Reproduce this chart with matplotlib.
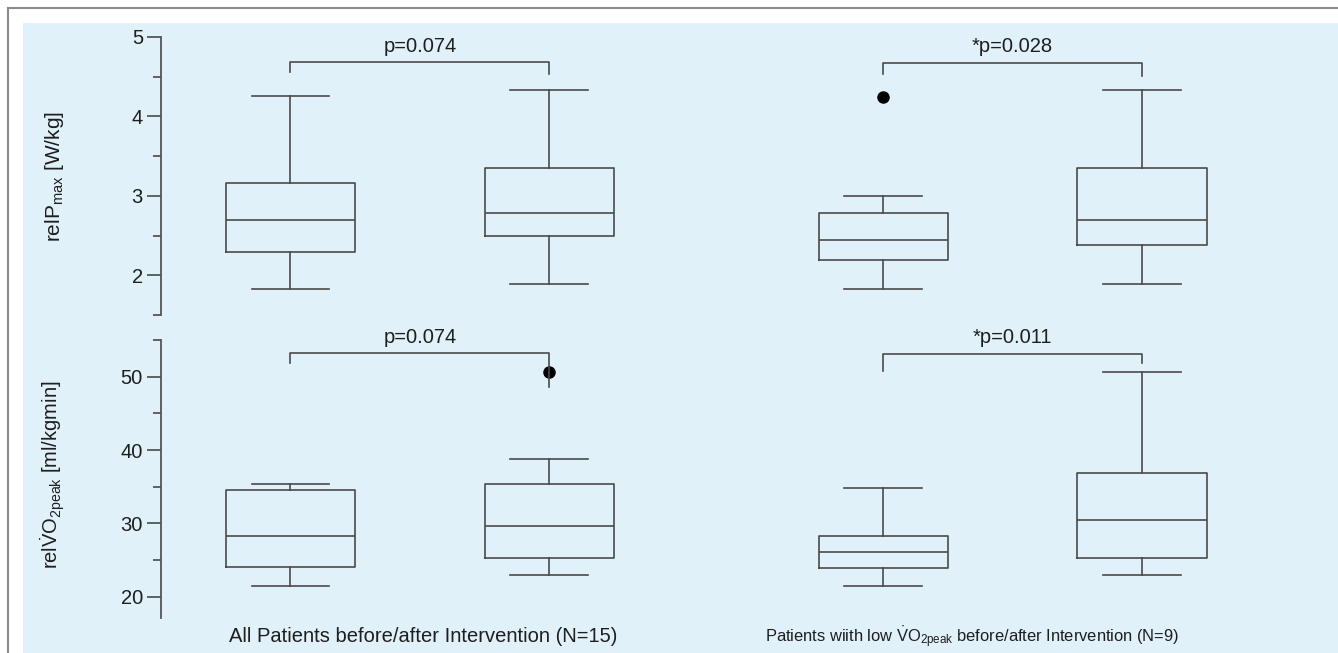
import matplotlib
matplotlib.use('Agg')
import matplotlib.pyplot as plt
from matplotlib.patches import Rectangle
from matplotlib.lines import Line2D

plt.rcParams['font.family'] = ['Liberation Sans', 'DejaVu Sans']
plt.rcParams['mathtext.fontset'] = 'custom'
plt.rcParams['mathtext.rm'] = 'Liberation Sans'
plt.rcParams['mathtext.it'] = 'Liberation Sans:italic'

# ---- data ----
positions = [1.0, 2.0, 3.29, 4.29]

# relPmax [W/kg]
p_whislo = [1.83, 1.89, 1.83, 1.89]
p_q1 = [2.29, 2.50, 2.19, 2.38]
p_med = [2.70, 2.79, 2.45, 2.70]
p_q3 = [3.16, 3.35, 2.79, 3.35]
p_whishi = [4.26, 4.33, 3.00, 4.33]
p_fliers = [[], [], [4.25], []]

# relVO2peak [ml/kgmin]
v_whislo = [21.4, 22.9, 21.4, 22.9]
v_q1 = [24.0, 25.3, 23.9, 25.3]
v_med = [28.3, 29.7, 26.1, 30.5]
v_q3 = [34.5, 35.4, 28.3, 36.8]
v_whishi = [35.4, 38.8, 34.8, 50.7]
v_fliers = [[], [50.7], [], []]

# significance brackets: (x1, x2, bar, leg1 end, leg2 end, label)
p_brackets = [(1.0, 2.0, 4.68, 4.56, 4.54, 'p=0.074'),
              (3.29, 4.29, 4.67, 4.54, 4.51, '*p=0.028')]
v_brackets = [(1.0, 2.0, 53.2, 51.8, 48.6, 'p=0.074'),
              (3.29, 4.29, 53.1, 50.8, 51.8, '*p=0.011')]

group_labels = ['All Patients before/after Intervention (N=15)',
                r'Patients wiith low $\dot{\mathrm{V}}$O$_{\mathrm{2peak}}$ before/after Intervention (N=9)']

W, H = 1338, 653
fig = plt.figure(figsize=(W / 100, H / 100), dpi=100)
fig.patch.set_facecolor('white')

# background panel and frame lines
fig.patches.append(Rectangle((23 / W, 0), 1, 1 - 23 / H, transform=fig.transFigure,
                             facecolor='#e1f1fa', edgecolor='none', zorder=-10))
fig.lines.append(Line2D([8 / W, 1], [1 - 8 / H, 1 - 8 / H], transform=fig.transFigure,
                        color='#8a8a8a', lw=1.5))
fig.lines.append(Line2D([8 / W, 8 / W], [0, 1 - 8 / H], transform=fig.transFigure,
                        color='#8a8a8a', lw=1.5))

left = 161 / W
width = (1300 - 161) / W
ax1 = fig.add_axes([left, 1 - 315 / H, width, (315 - 37) / H])
ax2 = fig.add_axes([left, 1 - 618 / H, width, (618 - 340) / H])

line_col = '#4a4a4a'
txt_col = '#1e1e1e'
lw = 1.2
fs = 14.5


def make_stats(lo, q1, med, q3, hi, fl):
    return [dict(whislo=a, q1=b, med=c, q3=d, whishi=e, fliers=f)
            for a, b, c, d, e, f in zip(lo, q1, med, q3, hi, fl)]


def draw(ax, stats, brackets, ylim, major, minor, text_y):
    ax.bxp(stats, positions=positions, widths=0.5, capwidths=0.3, showfliers=True,
           boxprops=dict(color=line_col, lw=lw),
           whiskerprops=dict(color=line_col, lw=lw),
           capprops=dict(color=line_col, lw=lw),
           medianprops=dict(color=line_col, lw=lw),
           flierprops=dict(marker='o', markerfacecolor='black', markeredgecolor='black',
                           markersize=8))
    for x1, x2, yb, l1, l2, lab in brackets:
        ax.plot([x1, x1, x2, x2], [l1, yb, yb, l2], color=line_col, lw=lw, clip_on=False)
        ax.text((x1 + x2) / 2, text_y, lab, ha='center', va='center', fontsize=fs,
                color=txt_col, clip_on=False)
    ax.set_xlim(0.5, 4.9)
    ax.set_ylim(*ylim)
    ax.set_yticks(major)
    ax.set_yticks(minor, minor=True)
    ax.set_facecolor('none')
    for s in ['top', 'right', 'bottom']:
        ax.spines[s].set_visible(False)
    ax.spines['left'].set_color('#555555')
    ax.spines['left'].set_linewidth(1.3)
    ax.tick_params(axis='y', which='major', length=10, width=1.3, color='#555555',
                   labelsize=14.5, labelcolor=txt_col, pad=3)
    ax.tick_params(axis='y', which='minor', length=5.5, width=1.3, color='#555555')
    ax.set_xticks([])


draw(ax1, make_stats(p_whislo, p_q1, p_med, p_q3, p_whishi, p_fliers), p_brackets,
     (1.5, 5.0), [2, 3, 4, 5], [1.5, 2.5, 3.5, 4.5], 4.88)
draw(ax2, make_stats(v_whislo, v_q1, v_med, v_q3, v_whishi, v_fliers), v_brackets,
     (17.1, 55.0), [20, 30, 40, 50], [25, 35, 45, 55], 55.4)

fig.text(54 / W, 1 - 177 / H, r'relP$_{\mathrm{max}}$ [W/kg]', rotation=90,
         ha='center', va='center', fontsize=15, color=txt_col)
fig.text(53 / W, 1 - 475 / H, r'rel$\dot{\mathrm{V}}$O$_{\mathrm{2peak}}$ [ml/kgmin]',
         rotation=90, ha='center', va='center', fontsize=14.5, color=txt_col)

fig.text(423 / W, 1 - 637 / H, group_labels[0], ha='center', va='center',
         fontsize=fs, color=txt_col)
# second label is set narrower in the reference, so a smaller size keeps its width
fig.text(972 / W, 1 - 637 / H, group_labels[1], ha='center', va='center',
         fontsize=11.9, color=txt_col)

fig.savefig('out.png', dpi=100)
